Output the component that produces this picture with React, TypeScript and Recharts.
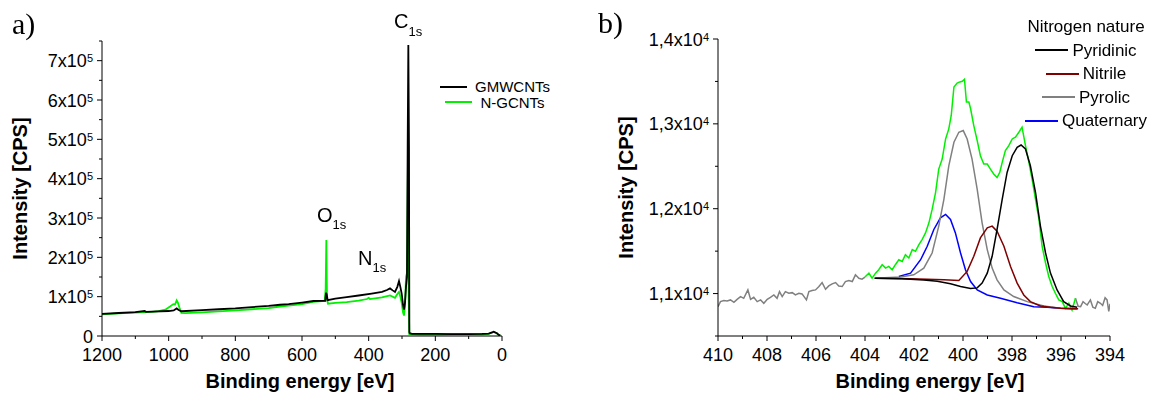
import React from 'react';
import { LineChart, Line, XAxis, YAxis, Legend } from 'recharts';

const FONT = 'Arial, "Liberation Sans", sans-serif';
const SERIF = '"Times New Roman", "Liberation Serif", serif';

// ---- a) survey spectra ----
const gmwEnergy = [1200, 1150, 1100, 1072, 1068, 1050, 1000, 985, 976, 970, 962, 900, 850, 800, 750, 700, 666, 640, 600, 566, 540, 530, 528, 526, 523, 500, 466, 430, 391, 360, 345, 336, 328, 321, 314, 309, 305, 301, 297, 294, 291, 288, 285, 283, 281, 279, 278, 277, 270, 250, 200, 150, 100, 60, 40, 30, 25, 20, 15, 10, 5];
const gmwCounts = [56000, 58500, 60500, 63500, 61500, 62000, 63500, 65000, 70000, 66000, 63000, 66000, 68000, 70000, 73500, 76500, 79500, 81000, 85000, 89000, 89500, 89500, 110000, 106000, 91000, 95000, 99000, 103000, 108000, 112000, 117000, 121000, 116000, 112000, 125000, 139500, 125000, 108000, 80000, 67000, 85000, 125000, 150000, 480000, 740000, 480000, 10000, 7000, 5500, 5500, 5200, 5000, 5000, 5200, 6000, 9000, 11000, 9000, 7000, 3000, 1000];

const ngEnergy = [1200, 1150, 1100, 1050, 1030, 1010, 996, 986, 981, 976, 972, 968, 962, 950, 900, 850, 800, 750, 700, 666, 640, 600, 566, 540, 532, 529, 527, 525, 522, 500, 466, 430, 405, 400, 396, 360, 336, 321, 313, 309, 305, 301, 297, 294, 291, 288, 285, 282, 280, 278, 250, 230, 200, 150, 100, 60, 40, 30, 25, 20, 15, 10, 5];
const ngCounts = [55000, 57500, 59500, 61500, 63000, 67000, 75000, 81000, 80000, 90500, 84000, 73000, 58500, 58000, 60000, 62500, 65000, 68000, 71000, 75000, 77000, 81000, 87000, 89000, 90000, 120000, 244000, 95000, 82000, 84000, 86000, 90000, 94000, 97000, 94000, 98000, 103000, 97000, 108000, 112000, 100000, 85000, 60000, 52000, 75000, 150000, 160000, 460000, 100000, 5000, 3500, 3500, 3500, 4500, 4500, 4500, 5500, 8500, 10500, 8500, 6500, 2500, 800];

const surveyXTicks = [0, 100, 200, 300, 400, 500, 600, 700, 800, 900, 1000, 1100, 1200];
const surveyYTicks = [0, 50000, 100000, 150000, 200000, 250000, 300000, 350000, 400000, 450000, 500000, 550000, 600000, 650000, 700000, 750000];
const surveyNames = ['GMWCNTs', 'N-GCNTs'];

// ---- b) N1s high resolution ----
const rawHighE = [410.0, 409.9, 409.76, 409.63, 409.49, 409.35, 409.22, 409.08, 408.95, 408.78, 408.67, 408.54, 408.4, 408.26, 408.13, 407.99, 407.86, 407.72, 407.59, 407.49, 407.38, 407.25, 407.11, 406.97, 406.84, 406.7, 406.57, 406.39, 406.29, 406.16, 406.02, 405.88, 405.75, 405.61, 405.48, 405.34, 405.2, 405.07, 404.93, 404.8, 404.66, 404.52, 404.39, 404.25, 404.12, 404.0];
const rawHighV = [10845, 10905, 10917, 10913, 10925, 10897, 10932, 10964, 10944, 11043, 10932, 10956, 10905, 10925, 10885, 10932, 10956, 10984, 10944, 11023, 10964, 11023, 11004, 11011, 10984, 11004, 10996, 10925, 11023, 11035, 11043, 11083, 11130, 11051, 11090, 11114, 11130, 11090, 11083, 11142, 11154, 11142, 11221, 11181, 11170, 11195];

const envE = [404.0, 403.98, 403.84, 403.71, 403.57, 403.44, 403.3, 403.16, 403.03, 402.89, 402.76, 402.62, 402.48, 402.35, 402.21, 402.07, 401.94, 401.8, 401.67, 401.53, 401.39, 401.26, 401.12, 400.99, 400.85, 400.71, 400.58, 400.48, 400.37, 400.24, 400.13, 400.03, 399.94, 399.86, 399.76, 399.69, 399.56, 399.42, 399.29, 399.15, 399.01, 398.88, 398.74, 398.61, 398.5, 398.4, 398.27, 398.13, 397.99, 397.86, 397.72, 397.59, 397.45, 397.31, 397.18, 397.04, 396.9, 396.77, 396.63, 396.5, 396.36, 396.23, 396.09, 395.95, 395.82, 395.68, 395.55, 395.41];
const envV = [11195, 11202, 11241, 11182, 11241, 11281, 11340, 11300, 11320, 11281, 11340, 11399, 11379, 11458, 11419, 11518, 11498, 11577, 11636, 11715, 11834, 11992, 12190, 12467, 12585, 12822, 12941, 13099, 13435, 13480, 13494, 13502, 13526, 13257, 13257, 13178, 12980, 12803, 12625, 12526, 12526, 12467, 12407, 12368, 12427, 12546, 12684, 12743, 12822, 12842, 12901, 12961, 12743, 12546, 12348, 12111, 11874, 11557, 11360, 11202, 11083, 11004, 10925, 10905, 10826, 10885, 10806, 10945];

const rawLowE = [395.41, 395.3, 395.2, 395.1, 395.0, 394.93, 394.8, 394.7, 394.6, 394.5, 394.39, 394.3, 394.2, 394.12, 394.05, 394.0];
const rawLowV = [10945, 10850, 10846, 10905, 10880, 10866, 10925, 10840, 10826, 10905, 10885, 10860, 10950, 10925, 10790, 10880];

const pyridinicE = [403.6, 402.5, 401.6, 401.05, 400.51, 400.1, 399.69, 399.42, 399.22, 399.01, 398.81, 398.61, 398.4, 398.2, 397.99, 397.79, 397.63, 397.45, 397.25, 397.04, 396.84, 396.63, 396.43, 396.16, 395.89, 395.61, 395.34];
const pyridinicV = [11182, 11175, 11160, 11146, 11115, 11083, 11059, 11067, 11123, 11241, 11439, 11755, 12111, 12427, 12625, 12724, 12751, 12704, 12506, 12190, 11795, 11478, 11241, 11043, 10905, 10854, 10838];

const nitrileE = [403.57, 402.14, 400.78, 400.17, 399.83, 399.56, 399.29, 399.01, 398.81, 398.61, 398.33, 398.06, 397.79, 397.52, 397.25, 396.84, 396.43, 396.02, 395.6, 395.34];
const nitrileV = [11182, 11174, 11162, 11154, 11261, 11439, 11656, 11775, 11795, 11735, 11557, 11320, 11123, 10984, 10905, 10854, 10838, 10826, 10822, 10820];

const pyrolicE = [403.64, 402.55, 402.01, 401.6, 401.26, 400.99, 400.78, 400.58, 400.37, 400.17, 399.99, 399.83, 399.63, 399.42, 399.22, 399.01, 398.81, 398.61, 398.33, 397.93, 397.38, 396.7, 396.02, 395.34];
const pyrolicV = [11182, 11194, 11221, 11300, 11478, 11795, 12111, 12506, 12783, 12901, 12921, 12822, 12585, 12229, 11834, 11518, 11300, 11162, 11043, 10965, 10905, 10854, 10826, 10820];

const quaternaryE = [402.62, 402.14, 401.73, 401.46, 401.19, 400.92, 400.71, 400.51, 400.31, 400.1, 399.9, 399.69, 399.42, 399.01, 398.47, 397.79, 397.11, 396.57, 396.02, 395.3];
const quaternaryV = [11202, 11241, 11399, 11557, 11755, 11893, 11933, 11874, 11715, 11478, 11281, 11142, 11043, 10984, 10945, 10893, 10846, 10838, 10826, 10822];

const n1sXTicks = [394, 395, 396, 397, 398, 399, 400, 401, 402, 403, 404, 405, 406, 407, 408, 409, 410];
const n1sYTicks = [10500, 11000, 11500, 12000, 12500, 13000, 13500, 14000];
const n1sNames = ['Pyridinic', 'Nitrile', 'Pyrolic', 'Quaternary'];

const zip = (e: number[], v: number[]) => e.map((x, i) => ({ e: x, v: v[i] }));

const tickText = { fontFamily: FONT, fontSize: 18, fill: '#000' };

const SurveyYTick = ({ x, y, payload }: any) => {
  const v = payload.value;
  const major = v % 100000 === 0;
  return (
    <g>
      <line x1={x - (major ? 5 : 3)} x2={x} y1={y} y2={y} stroke="#000" />
      {major && (
        <text x={x - 9} y={y + 6.5} textAnchor="end" {...tickText}>
          {v === 0 ? '0' : `${v / 100000}x10`}
          {v !== 0 && <tspan dy={-5} fontSize={11}>5</tspan>}
        </text>
      )}
    </g>
  );
};

const N1sYTick = ({ x, y, payload }: any) => {
  const v = payload.value;
  const major = v % 1000 === 0;
  return (
    <g>
      <line x1={x - (major ? 5 : 3)} x2={x} y1={y} y2={y} stroke="#000" />
      {major && (
        <text x={x - 9} y={y + 6.5} textAnchor="end" {...tickText}>
          {`${String(v / 10000).replace('.', ',')}x10`}
          <tspan dy={-5} fontSize={11}>4</tspan>
        </text>
      )}
    </g>
  );
};

const makeXTick = (step: number) => ({ x, y, payload }: any) => {
  const v = payload.value;
  const major = v % step === 0;
  return (
    <g>
      <line x1={x} x2={x} y1={y} y2={y + (major ? 5 : 3)} stroke="#000" />
      {major && (
        <text x={x} y={y + 25} textAnchor="middle" {...tickText}>{v}</text>
      )}
    </g>
  );
};

const makeLegend = (order: string[], title: string | null, rowH: number, fontSize: number, swatch: number, gap: number) =>
  (props: any) => {
    const items = order
      .map((n) => (props.payload || []).find((p: any) => p.value === n))
      .filter(Boolean);
    return (
      <div style={{ fontFamily: FONT, fontSize, color: '#000', lineHeight: `${rowH}px` }}>
        {title && <div style={{ textAlign: 'center', height: rowH }}>{title}</div>}
        {items.map((p: any) => (
          <div key={p.value} style={{ display: 'flex', justifyContent: 'center', alignItems: 'center', height: rowH }}>
            <span style={{ display: 'inline-block', width: swatch, borderTop: `2px solid ${p.color}`, marginRight: gap }} />
            <span>{p.value}</span>
          </div>
        ))}
      </div>
    );
  };

const axisTitle = { fontFamily: FONT, fontSize: 20, fontWeight: 700, fill: '#000' };

export default function App() {
  return (
    <div style={{ position: 'fixed', left: 0, top: 0, width: 1151, height: 396, background: '#fff' }}>
      <div style={{ position: 'absolute', left: 0, top: 0 }}>
        <LineChart width={580} height={396} margin={{ top: 41, right: 78, bottom: 0, left: 0 }}>
          <XAxis
            dataKey="e"
            type="number"
            domain={[0, 1200]}
            reversed
            allowDataOverflow
            ticks={surveyXTicks}
            interval={0}
            tickSize={0}
            tickMargin={0}
            tick={makeXTick(200)}
            height={60}
            stroke="#000"
            label={{ value: 'Binding energy [eV]', position: 'insideBottom', offset: 8, dx: -2, ...axisTitle }}
          />
          <YAxis
            dataKey="v"
            type="number"
            domain={[0, 750000]}
            allowDataOverflow
            ticks={surveyYTicks}
            interval={0}
            tickSize={0}
            tickMargin={0}
            tick={<SurveyYTick />}
            width={102}
            stroke="#000"
            label={{ value: 'Intensity [CPS]', angle: -90, position: 'center', dx: -31, ...axisTitle }}
          />
          <Legend
            layout="vertical"
            align="center"
            verticalAlign="middle"
            wrapperStyle={{ left: 425, top: 79, width: 140 }}
            content={makeLegend(surveyNames, null, 15.5, 15, 27, 8)}
          />
          <Line data={zip(ngEnergy, ngCounts)} dataKey="v" name="N-GCNTs" stroke="#00f000" strokeWidth={1.8} dot={false} isAnimationActive={false} />
          <Line data={zip(gmwEnergy, gmwCounts)} dataKey="v" name="GMWCNTs" stroke="#000" strokeWidth={1.8} dot={false} isAnimationActive={false} />
        </LineChart>
      </div>

      <div style={{ position: 'absolute', left: 590, top: 0 }}>
        <LineChart width={561} height={396} margin={{ top: 39, right: 41, bottom: 0, left: 0 }}>
          <XAxis
            dataKey="e"
            type="number"
            domain={[394, 410]}
            reversed
            allowDataOverflow
            ticks={n1sXTicks}
            interval={0}
            tickSize={0}
            tickMargin={0}
            tick={makeXTick(2)}
            height={60}
            stroke="#000"
            label={{ value: 'Binding energy [eV]', position: 'insideBottom', offset: 8, dx: 16, ...axisTitle }}
          />
          <YAxis
            dataKey="v"
            type="number"
            domain={[10500, 14000]}
            allowDataOverflow
            ticks={n1sYTicks}
            interval={0}
            tickSize={0}
            tickMargin={0}
            tick={<N1sYTick />}
            width={128}
            stroke="#000"
            label={{ value: 'Intensity [CPS]', angle: -90, position: 'center', dx: -28, ...axisTitle }}
          />
          <Legend
            layout="vertical"
            align="center"
            verticalAlign="middle"
            wrapperStyle={{ left: 426, top: 15, width: 140 }}
            content={makeLegend(n1sNames, 'Nitrogen nature', 23.5, 17, 33, 4)}
          />
          <Line data={zip(rawHighE, rawHighV)} dataKey="v" name="raw-high" legendType="none" stroke="#808080" strokeWidth={1.5} dot={false} isAnimationActive={false} />
          <Line data={zip(rawLowE, rawLowV)} dataKey="v" name="raw-low" legendType="none" stroke="#808080" strokeWidth={1.5} dot={false} isAnimationActive={false} />
          <Line data={zip(envE, envV)} dataKey="v" name="envelope" legendType="none" stroke="#00f000" strokeWidth={1.5} dot={false} isAnimationActive={false} />
          <Line data={zip(quaternaryE, quaternaryV)} dataKey="v" name="Quaternary" stroke="#0000ff" strokeWidth={1.5} dot={false} isAnimationActive={false} />
          <Line data={zip(pyrolicE, pyrolicV)} dataKey="v" name="Pyrolic" stroke="#808080" strokeWidth={1.5} dot={false} isAnimationActive={false} />
          <Line data={zip(nitrileE, nitrileV)} dataKey="v" name="Nitrile" stroke="#800000" strokeWidth={1.5} dot={false} isAnimationActive={false} />
          <Line data={zip(pyridinicE, pyridinicV)} dataKey="v" name="Pyridinic" stroke="#000" strokeWidth={1.5} dot={false} isAnimationActive={false} />
        </LineChart>
      </div>

      <svg width={1151} height={396} style={{ position: 'absolute', left: 0, top: 0, pointerEvents: 'none' }}>
        <text x={12} y={34} fontFamily={SERIF} fontSize={30} fill="#000">a)</text>
        <text x={598} y={33} fontFamily={SERIF} fontSize={30} fill="#000">b)</text>
        <text x={394} y={28} fontFamily={FONT} fontSize={20} fill="#000">
          C<tspan dy={8} fontSize={13}>1s</tspan>
        </text>
        <text x={317} y={222} fontFamily={FONT} fontSize={20} fill="#000">
          O<tspan dy={7} fontSize={13}>1s</tspan>
        </text>
        <text x={358} y={265} fontFamily={FONT} fontSize={20} fill="#000">
          N<tspan dy={7} fontSize={13}>1s</tspan>
        </text>
      </svg>
    </div>
  );
}
